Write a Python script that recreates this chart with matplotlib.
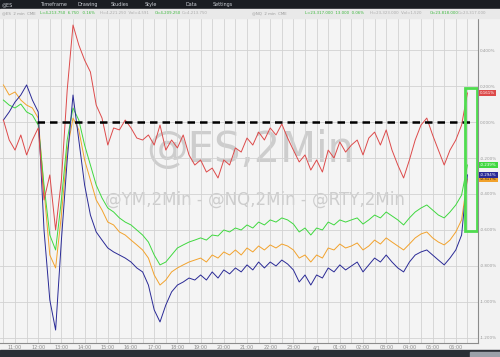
import matplotlib
matplotlib.use("Agg")
import matplotlib.pyplot as plt
from matplotlib.patches import Rectangle
import numpy as np

# 2-min futures, sampled every 15 min; hours after 10:00 (14 = midnight 4/1)
hours = np.arange(0.5, 20.75, 0.25)

# % change
es = [0.011, -0.100, -0.156, -0.072, -0.183, -0.100, -0.033, -0.433, -0.294, -0.600,
      -0.322, 0.178, 0.539, 0.428, 0.344, 0.278, 0.094, 0.022, -0.128, -0.033,
      -0.044, 0.011, -0.033, -0.089, -0.100, -0.072, -0.128, -0.017, -0.156, -0.100,
      -0.144, -0.072, -0.183, -0.239, -0.211, -0.278, -0.256, -0.311, -0.211, -0.239,
      -0.144, -0.167, -0.089, -0.128, -0.056, -0.100, -0.033, -0.072, -0.011, -0.089,
      -0.156, -0.222, -0.183, -0.267, -0.211, -0.278, -0.156, -0.200, -0.111, -0.167,
      -0.128, -0.100, -0.183, -0.089, -0.056, -0.128, -0.044, -0.156, -0.239, -0.311,
      -0.211, -0.100, -0.017, 0.022, -0.072, -0.156, -0.239, -0.156, -0.100, -0.017,
      0.161]
ym = [0.206, 0.150, 0.167, 0.122, 0.094, 0.078, 0.022, -0.378, -0.739, -0.811,
      -0.517, -0.156, 0.022, -0.044, -0.211, -0.322, -0.433, -0.489, -0.556, -0.572,
      -0.611, -0.628, -0.656, -0.683, -0.711, -0.756, -0.850, -0.906, -0.878, -0.833,
      -0.811, -0.794, -0.778, -0.767, -0.756, -0.778, -0.739, -0.756, -0.722, -0.739,
      -0.711, -0.739, -0.700, -0.722, -0.689, -0.711, -0.683, -0.700, -0.678, -0.689,
      -0.711, -0.756, -0.739, -0.778, -0.739, -0.756, -0.700, -0.711, -0.678, -0.700,
      -0.689, -0.672, -0.711, -0.689, -0.656, -0.678, -0.644, -0.667, -0.689, -0.711,
      -0.678, -0.644, -0.622, -0.611, -0.644, -0.667, -0.683, -0.656, -0.611, -0.544,
      -0.317]
nq = [0.122, 0.094, 0.078, 0.100, 0.056, 0.039, -0.017, -0.350, -0.628, -0.711,
      -0.433, -0.100, 0.078, 0.011, -0.128, -0.239, -0.350, -0.422, -0.478, -0.500,
      -0.533, -0.556, -0.572, -0.600, -0.628, -0.667, -0.739, -0.794, -0.778, -0.739,
      -0.700, -0.683, -0.667, -0.656, -0.644, -0.656, -0.628, -0.633, -0.600, -0.611,
      -0.589, -0.600, -0.572, -0.589, -0.556, -0.572, -0.544, -0.556, -0.533, -0.544,
      -0.567, -0.611, -0.589, -0.628, -0.589, -0.600, -0.556, -0.572, -0.544, -0.556,
      -0.544, -0.533, -0.567, -0.544, -0.517, -0.533, -0.500, -0.522, -0.544, -0.572,
      -0.533, -0.500, -0.478, -0.461, -0.489, -0.517, -0.533, -0.500, -0.461, -0.406,
      -0.239]
rty = [0.011, 0.056, 0.111, 0.150, 0.206, 0.122, 0.056, -0.600, -0.989, -1.156,
       -0.656, -0.211, 0.150, -0.100, -0.350, -0.517, -0.611, -0.656, -0.700, -0.722,
       -0.739, -0.756, -0.778, -0.811, -0.833, -0.906, -1.044, -1.111, -1.017, -0.944,
       -0.906, -0.889, -0.867, -0.878, -0.850, -0.878, -0.833, -0.867, -0.822, -0.844,
       -0.811, -0.833, -0.794, -0.822, -0.778, -0.811, -0.778, -0.800, -0.767, -0.789,
       -0.822, -0.889, -0.850, -0.906, -0.850, -0.867, -0.811, -0.833, -0.794, -0.822,
       -0.800, -0.778, -0.833, -0.794, -0.756, -0.778, -0.739, -0.778, -0.811, -0.833,
       -0.778, -0.739, -0.722, -0.711, -0.739, -0.767, -0.794, -0.756, -0.711, -0.628,
       -0.294]

tick_hours = list(range(1, 21))
tick_labels = ["11:00", "12:00", "13:00", "14:00", "15:00", "16:00", "17:00", "18:00",
               "19:00", "20:00", "21:00", "22:00", "23:00", "4/1", "01:00", "02:00",
               "03:00", "04:00", "05:00", "06:00"]
pct_ticks = [0.4, 0.2, 0.0, -0.2, -0.4, -0.6, -0.8, -1.0, -1.2]

# highlight box around the last move
box_t0, box_t1 = 20.40, 20.91
box_lo, box_hi = -0.606, 0.189
dash_from, dash_to = 1.95, 20.6

series = [(ym, "#f2a22c"), (nq, "#3fd83f"), (rty, "#2a2a96"), (es, "#dd4a4a")]

fig = plt.figure(figsize=(5, 3.57), dpi=100)
fig.patch.set_facecolor("#f2f2f2")

# toolbar / status strips
fig.patches.append(Rectangle((0, 1 - 9 / 357), 1, 9 / 357, transform=fig.transFigure,
                             color="#1a1d22", zorder=0))
fig.patches.append(Rectangle((0, 1 - 18 / 357), 1, 9 / 357, transform=fig.transFigure,
                             color="#e9e9e9", zorder=0))
fig.patches.append(Rectangle((0, 0), 1, 7 / 357, transform=fig.transFigure,
                             color="#2b2f36", zorder=0))
fig.patches.append(Rectangle((470 / 500, 0), 30 / 500, 5 / 357, transform=fig.transFigure,
                             color="#9aa0a8", zorder=0))

ty = 1 - 4.5 / 357
for x, s in [(2, "@ES"), (40, "Timeframe"), (77, "Drawing"), (111, "Studies"),
             (145, "Style"), (186, "Data"), (213, "Settings")]:
    fig.text(x / 500, ty, s, fontsize=3.5, color="#c9cdd3", va="center")

iy = 1 - 13.5 / 357
for x, s, c in [(2, "@ES  2 min  CME", "#999999"), (40, "L=4,213.750  6.750   0.16%", "#3cb83c"),
                (100, "H=4,221.250  Vol=4,591", "#aaaaaa"), (155, "O=4,209.250", "#3cb83c"),
                (182, "C=4,213.750", "#aaaaaa"), (252, "@NQ  2 min  CME", "#999999"),
                (305, "L=23,317.000  13.000  0.06%", "#3cb83c"),
                (370, "H=23,323.000  Vol=1,520", "#aaaaaa"), (430, "O=23,818.000", "#3cb83c"),
                (458, "C=23,317.000", "#aaaaaa")]:
    fig.text(x / 500, iy, s, fontsize=2.8, color=c, va="center")

ax = fig.add_axes([0, 14 / 357, 478 / 500, 325 / 357])
ax.set_facecolor("#f4f4f4")

ax.text(0.523, 0.594, "@ES,2Min", transform=ax.transAxes, fontsize=30,
        color="#cdcdcd", ha="center", va="center", zorder=1)
ax.text(0.533, 0.44, "@YM,2Min - @NQ,2Min - @RTY,2Min", transform=ax.transAxes,
        fontsize=12, color="#cdcdcd", ha="center", va="center", zorder=1)

for vals, col in series:
    ax.plot(hours, vals, color=col, lw=0.7, zorder=3)

ax.hlines(0, dash_from, dash_to, colors="black", linestyles=(0, (3, 2)), lw=1.8, zorder=4)
ax.add_patch(Rectangle((box_t0, box_lo), box_t1 - box_t0, box_hi - box_lo,
                       fill=False, edgecolor="#4fdc4f", lw=2, zorder=5))

ax.set_xlim(0.353, 20.957)
ax.set_ylim(-1.228, 0.578)

ax.set_xticks(tick_hours)
ax.set_xticklabels(tick_labels)
ax.set_xticks(np.arange(0.5, 21, 1.0), minor=True)
ax.set_yticks(pct_ticks)
ax.set_yticklabels([f"{v:.3f}%" for v in pct_ticks])
ax.yaxis.tick_right()
ax.grid(True, which="both", color="#d2d2d2", lw=0.6, zorder=0)
ax.tick_params(axis="x", which="both", length=0, pad=1.5, labelsize=3.5, colors="#8a8a8a")
ax.tick_params(axis="y", length=0, pad=1.5, labelsize=3.0, colors="#9a9a9a")

for side in ["top", "left"]:
    ax.spines[side].set_visible(False)
for side in ["right", "bottom"]:
    ax.spines[side].set_color("#8c8c8c")
    ax.spines[side].set_linewidth(0.8)

# last-value tags on the price scale
yt = ax.get_yaxis_transform()
for vals, col in series:
    txt_col = "#222222" if col == "#f2a22c" else "white"
    ax.text(1.004, vals[-1], f"{vals[-1]:.3f}%", transform=yt, fontsize=2.9,
            color=txt_col, va="center", ha="left", clip_on=False, zorder=6,
            bbox=dict(boxstyle="square,pad=0.25", fc=col, ec="none"))

fig.savefig("out.png", dpi=100, facecolor=fig.get_facecolor())
plt.close(fig)
